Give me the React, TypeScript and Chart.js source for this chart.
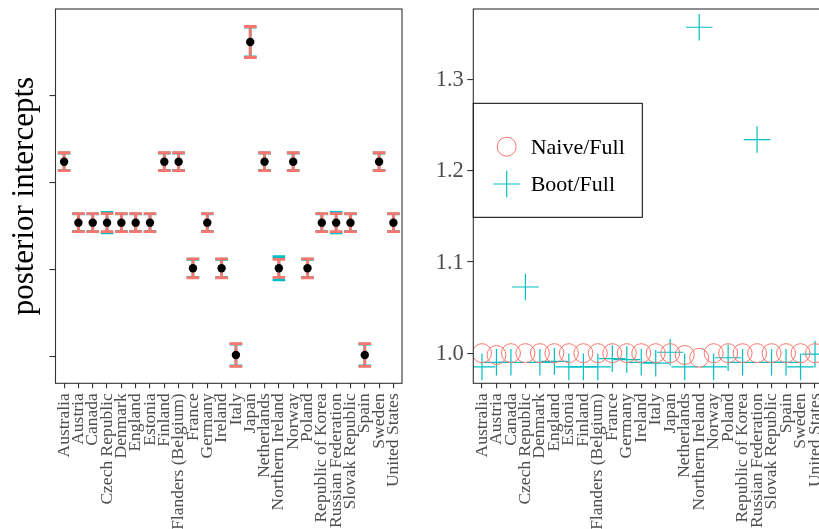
import React, { useEffect, useRef } from "react";
import { Chart, registerables } from "chart.js";
Chart.register(...registerables);

const countries = [
  "Australia", "Austria", "Canada", "Czech Republic", "Denmark", "England",
  "Estonia", "Finland", "Flanders (Belgium)", "France", "Germany", "Ireland",
  "Italy", "Japan", "Netherlands", "Northern Ireland", "Norway", "Poland",
  "Republic of Korea", "Russian Federation", "Slovak Republic", "Spain",
  "Sweden", "United States",
];

// left panel: posterior intercepts with interval half-widths
const intercepts = [
  2.242, 1.542, 1.542, 1.542, 1.542, 1.542, 1.542, 2.242, 2.242, 1.018, 1.542, 1.018,
  0.023, 3.616, 2.242, 1.018, 2.242, 1.018, 1.542, 1.542, 1.542, 0.023, 2.242, 1.542,
];
const naiveHalf = [
  0.103, 0.103, 0.103, 0.103, 0.103, 0.103, 0.103, 0.103, 0.103, 0.108, 0.103, 0.108,
  0.13, 0.178, 0.103, 0.103, 0.103, 0.108, 0.103, 0.103, 0.103, 0.13, 0.103, 0.103,
];
const bootHalf = [
  0.1, 0.1, 0.1, 0.118, 0.1, 0.1, 0.1, 0.1, 0.1, 0.104, 0.1, 0.104,
  0.125, 0.172, 0.1, 0.133, 0.1, 0.104, 0.1, 0.118, 0.1, 0.125, 0.1, 0.1,
];
const leftTicks = [0, 1, 2, 3];

// right panel: ratios
const naiveRatio = [
  1.0, 0.998, 1.0, 1.0, 1.0, 1.0, 1.0, 1.0, 1.0, 1.0, 1.0, 1.0,
  1.0, 1.0, 0.998, 0.995, 1.0, 1.0, 1.0, 1.0, 1.0, 1.0, 1.0, 1.0,
];
const bootRatio = [
  0.985, 0.99, 0.99, 1.0725, 0.99, 0.991, 0.985, 0.985, 0.985, 0.994, 0.993, 0.99,
  0.989, 1.001, 0.985, 1.357, 0.985, 0.995, 0.99, 1.234, 0.99, 0.99, 0.985, 0.999,
];
const rightTicks = [1.0, 1.1, 1.2, 1.3];

const RED = "#F8766D";
const CYAN = "#00BFC4";
const SERIF = "'Liberation Serif', serif";
const TICK_GREY = "#4d4d4d";

const borderPlugin = {
  id: "panelBorder",
  afterDraw(chart: any) {
    const { ctx, chartArea: a } = chart;
    ctx.save();
    ctx.strokeStyle = "#333333";
    ctx.lineWidth = 1.1;
    ctx.strokeRect(a.left, a.top, a.right - a.left, a.bottom - a.top);
    ctx.restore();
  },
};

// category labels under the x axis, rotated, and numeric y labels if asked
const labelPlugin = {
  id: "axisLabels",
  afterDraw(chart: any, _args: any, opts: any) {
    const { ctx, chartArea: a } = chart;
    const x = chart.scales.x;
    ctx.save();
    ctx.fillStyle = TICK_GREY;
    ctx.font = `17.5px ${SERIF}`;
    ctx.textAlign = "right";
    ctx.textBaseline = "middle";
    countries.forEach((c, i) => {
      const px = x.getPixelForValue(i);
      ctx.save();
      ctx.translate(px, a.bottom + 10);
      ctx.rotate(-Math.PI / 2);
      ctx.fillText(c, 0, 0);
      ctx.restore();
    });
    if (opts && opts.yLabels) {
      const y = chart.scales.y;
      ctx.font = `22.5px ${SERIF}`;
      ctx.textAlign = "right";
      ctx.textBaseline = "middle";
      rightTicks.forEach((v) => {
        ctx.fillText(v.toFixed(1), a.left - 9.5, y.getPixelForValue(v) + 1);
      });
    }
    ctx.restore();
  },
};

const errorBarPlugin = {
  id: "errorBars",
  beforeDatasetsDraw(chart: any) {
    const { ctx } = chart;
    const x = chart.scales.x;
    const y = chart.scales.y;
    const draw = (half: number[], color: string) => {
      ctx.save();
      ctx.strokeStyle = color;
      ctx.lineWidth = 2.8;
      intercepts.forEach((v, i) => {
        const px = x.getPixelForValue(i);
        const t = y.getPixelForValue(v + half[i]);
        const b = y.getPixelForValue(v - half[i]);
        ctx.beginPath();
        ctx.moveTo(px, t);
        ctx.lineTo(px, b);
        ctx.moveTo(px - 6.3, t);
        ctx.lineTo(px + 6.3, t);
        ctx.moveTo(px - 6.3, b);
        ctx.lineTo(px + 6.3, b);
        ctx.stroke();
      });
      ctx.restore();
    };
    draw(bootHalf, CYAN);
    draw(naiveHalf, RED);
  },
};

const legendPlugin = {
  id: "boxLegend",
  afterDraw(chart: any) {
    const { ctx, chartArea: a } = chart;
    const left = a.left;
    const top = 103.3;
    ctx.save();
    ctx.fillStyle = "#ffffff";
    ctx.fillRect(left, top, 169, 114);
    ctx.strokeStyle = "#000000";
    ctx.lineWidth = 1;
    ctx.strokeRect(left, top, 169, 114);
    const mx = left + 33.4;
    ctx.strokeStyle = RED;
    ctx.lineWidth = 1;
    ctx.beginPath();
    ctx.arc(mx, 146.7, 9.5, 0, Math.PI * 2);
    ctx.stroke();
    ctx.strokeStyle = CYAN;
    ctx.lineWidth = 1.2;
    ctx.beginPath();
    ctx.moveTo(mx - 13.3, 184);
    ctx.lineTo(mx + 13.3, 184);
    ctx.moveTo(mx, 184 - 13.3);
    ctx.lineTo(mx, 184 + 13.3);
    ctx.stroke();
    ctx.fillStyle = "#000000";
    ctx.font = `22px ${SERIF}`;
    ctx.textBaseline = "alphabetic";
    ctx.textAlign = "left";
    ctx.fillText(chart.data.datasets[0].label, left + 57.4, 154);
    ctx.fillText(chart.data.datasets[1].label, left + 57.4, 191);
    ctx.restore();
  },
};

const xScale = (axisHeight: number) => ({
  type: "linear",
  min: -0.6,
  max: 23.6,
  afterBuildTicks: (s: any) => {
    s.ticks = countries.map((_, i) => ({ value: i }));
  },
  afterFit: (s: any) => {
    s.height = axisHeight;
  },
  ticks: { display: false },
  grid: { display: true, drawOnChartArea: false, drawTicks: true, tickLength: 5, color: "#333333", lineWidth: 1.1 },
  border: { display: false },
});

function LeftChart() {
  const ref = useRef<HTMLCanvasElement>(null);
  useEffect(() => {
    const chart = new Chart(ref.current as HTMLCanvasElement, {
      type: "scatter",
      data: {
        datasets: [
          {
            label: "intercept",
            data: intercepts.map((v, i) => ({ x: i, y: v })),
            pointRadius: 4.2,
            pointBorderWidth: 0,
            backgroundColor: "#000000",
            borderColor: "#000000",
          },
        ],
      },
      options: {
        animation: false,
        responsive: false,
        maintainAspectRatio: false,
        layout: { autoPadding: false, padding: { top: 9, right: 7, left: 0, bottom: 0 } },
        plugins: { legend: { display: false }, tooltip: { enabled: false }, axisLabels: { yLabels: false } },
        scales: {
          x: xScale(145.7) as any,
          y: {
            min: -0.302,
            max: 3.995,
            afterBuildTicks: (s: any) => {
              s.ticks = leftTicks.map((v) => ({ value: v }));
            },
            afterFit: (s: any) => {
              s.width = 55.5;
            },
            ticks: { display: false },
            grid: { drawOnChartArea: false, tickLength: 6, color: "#333333", lineWidth: 1.1 },
            border: { display: false },
            title: {
              display: true,
              text: "posterior intercepts",
              color: "#000000",
              font: { family: SERIF, size: 31 },
              padding: { top: 6, bottom: 0 },
            },
          },
        },
      },
      plugins: [errorBarPlugin, borderPlugin, labelPlugin],
    } as any);
    return () => chart.destroy();
  }, []);
  return <canvas ref={ref} width={409} height={529} style={{ position: "absolute", left: 0, top: 0, width: 409, height: 529 }} />;
}

function RightChart() {
  const ref = useRef<HTMLCanvasElement>(null);
  useEffect(() => {
    const chart = new Chart(ref.current as HTMLCanvasElement, {
      type: "scatter",
      data: {
        datasets: [
          {
            label: "Naive/Full",
            data: naiveRatio.map((v, i) => ({ x: i, y: v })),
            pointStyle: "circle",
            pointRadius: 9.5,
            pointBorderWidth: 1,
            borderColor: RED,
            backgroundColor: "rgba(0,0,0,0)",
          },
          {
            label: "Boot/Full",
            data: bootRatio.map((v, i) => ({ x: i, y: v })),
            pointStyle: "cross",
            pointRadius: 13.3,
            pointBorderWidth: 1.2,
            borderColor: CYAN,
            backgroundColor: CYAN,
          },
        ],
      },
      options: {
        animation: false,
        responsive: false,
        maintainAspectRatio: false,
        layout: { autoPadding: false, padding: { top: 9, right: 6.3, left: 0, bottom: 0 } },
        plugins: { legend: { display: false }, tooltip: { enabled: false }, axisLabels: { yLabels: true } },
        scales: {
          x: xScale(145.7) as any,
          y: {
            min: 0.967,
            max: 1.377,
            afterBuildTicks: (s: any) => {
              s.ticks = rightTicks.map((v) => ({ value: v }));
            },
            afterFit: (s: any) => {
              s.width = 63.3;
            },
            ticks: { display: false },
            grid: { drawOnChartArea: false, tickLength: 6, color: "#333333", lineWidth: 1.1 },
            border: { display: false },
          },
        },
      },
      plugins: [borderPlugin, legendPlugin, labelPlugin],
    } as any);
    return () => chart.destroy();
  }, []);
  return <canvas ref={ref} width={420} height={529} style={{ position: "absolute", left: 410, top: 0, width: 420, height: 529 }} />;
}

export default function App() {
  return (
    <div style={{ position: "fixed", left: 0, top: 0, width: 819, height: 529, overflow: "hidden", background: "#ffffff" }}>
      <LeftChart />
      <RightChart />
    </div>
  );
}
